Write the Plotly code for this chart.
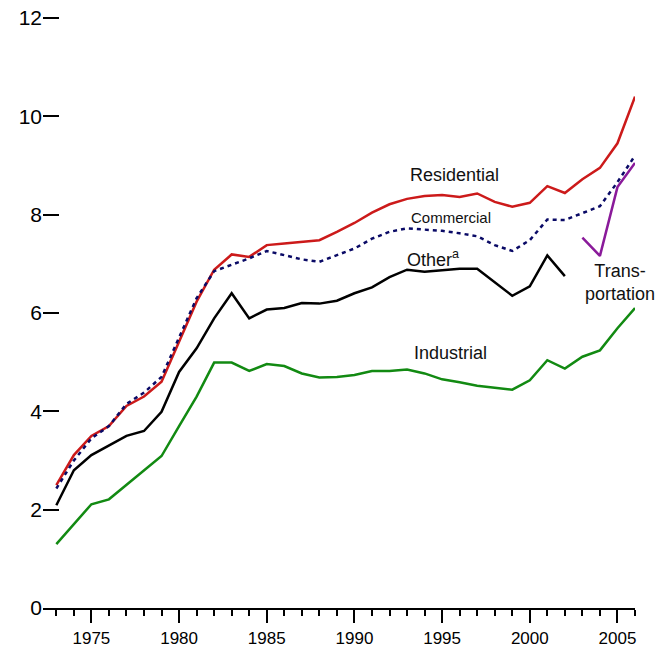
import plotly.graph_objects as go

years = list(range(1973, 2007))

residential = [2.50, 3.11, 3.50, 3.70, 4.11, 4.30, 4.60, 5.41, 6.23, 6.88,
               7.19, 7.14, 7.38, 7.41, 7.44, 7.48, 7.65, 7.83, 8.04, 8.21,
               8.32, 8.38, 8.40, 8.36, 8.43, 8.26, 8.16, 8.24, 8.58, 8.44,
               8.72, 8.95, 9.45, 10.40]

commercial = [2.43, 3.00, 3.45, 3.70, 4.15, 4.38, 4.70, 5.50, 6.30, 6.85,
              6.98, 7.11, 7.26, 7.17, 7.09, 7.04, 7.17, 7.31, 7.51, 7.65,
              7.72, 7.70, 7.67, 7.62, 7.56, 7.38, 7.26, 7.48, 7.90, 7.89,
              8.03, 8.17, 8.66, 9.20]

other_years = list(range(1973, 2003))
other = [2.09, 2.80, 3.11, 3.31, 3.50, 3.60, 3.99, 4.80, 5.28, 5.89,
         6.40, 5.89, 6.07, 6.10, 6.20, 6.19, 6.25, 6.40, 6.52, 6.73,
         6.88, 6.84, 6.87, 6.90, 6.90, 6.63, 6.35, 6.54, 7.17, 6.75]

industrial = [1.30, 1.70, 2.11, 2.21, 2.50, 2.80, 3.09, 3.70, 4.30, 4.99,
              4.99, 4.82, 4.96, 4.92, 4.77, 4.69, 4.70, 4.74, 4.82, 4.82,
              4.85, 4.77, 4.65, 4.59, 4.52, 4.48, 4.44, 4.63, 5.04, 4.87,
              5.11, 5.24, 5.69, 6.10]

transport_years = [2003, 2004, 2005, 2006]
transportation = [7.53, 7.16, 8.56, 9.05]

y_ticks = [0, 2, 4, 6, 8, 10, 12]

FONT = "Arial, Liberation Sans, sans-serif"

fig = go.Figure()
fig.add_trace(go.Scatter(x=years, y=industrial, mode="lines",
                         line=dict(color="#128A12", width=2.5), name="Industrial"))
fig.add_trace(go.Scatter(x=other_years, y=other, mode="lines",
                         line=dict(color="#000000", width=2.5), name="Other"))
fig.add_trace(go.Scatter(x=years, y=residential, mode="lines",
                         line=dict(color="#CC1A1A", width=2.5), name="Residential"))
fig.add_trace(go.Scatter(x=years, y=commercial, mode="lines",
                         line=dict(color="#0A0A66", width=2.5, dash="4px,4px"),
                         name="Commercial"))
fig.add_trace(go.Scatter(x=transport_years, y=transportation, mode="lines",
                         line=dict(color="#8A1A9A", width=2.5), name="Transportation"))

ann_font = dict(family=FONT, size=18, color="#111111")
annotations = [
    dict(x=1995.7, y=8.80, text="Residential", font=ann_font),
    dict(x=1995.5, y=7.95, text="Commercial", font=dict(family=FONT, size=15, color="#111111")),
    dict(x=1994.5, y=7.11, text="Other<sup>a</sup>", font=ann_font),
    dict(x=2005.15, y=6.62, text="Trans-<br>portation", font=ann_font),
    dict(x=1995.5, y=5.18, text="Industrial", font=ann_font),
]
for a in annotations:
    a.update(xref="x", yref="y", showarrow=False, xanchor="center", yanchor="middle")

fig.update_layout(
    width=665, height=651,
    margin=dict(l=35, r=38, t=5, b=51, autoexpand=False),
    plot_bgcolor="white", paper_bgcolor="white",
    showlegend=False,
    annotations=annotations,
    font=dict(family=FONT, color="black"),
)
fig.update_xaxes(
    range=[1972.24, 2006.0], automargin=False,
    showgrid=False, zeroline=False,
    showline=True, linecolor="black", linewidth=2,
    ticks="outside", ticklen=13, tickwidth=2, tickcolor="black",
    tick0=1975, dtick=5, ticklabelstandoff=1,
    ticklabeloverflow="allow",
    tickfont=dict(family=FONT, size=17, color="black"),
    minor=dict(dtick=1, tick0=1973, ticks="outside", ticklen=6,
               tickwidth=2, tickcolor="black", showgrid=False),
)
fig.update_yaxes(
    range=[0, 12.1], automargin=False,
    showgrid=False, zeroline=False, showline=False,
    ticks="inside", ticklen=16, tickwidth=2, tickcolor="black",
    tickvals=y_ticks, ticktext=[str(v) for v in y_ticks],
    ticklabeloverflow="allow",
    tickfont=dict(family=FONT, size=21, color="black"),
)

fig.write_html("out.html")
